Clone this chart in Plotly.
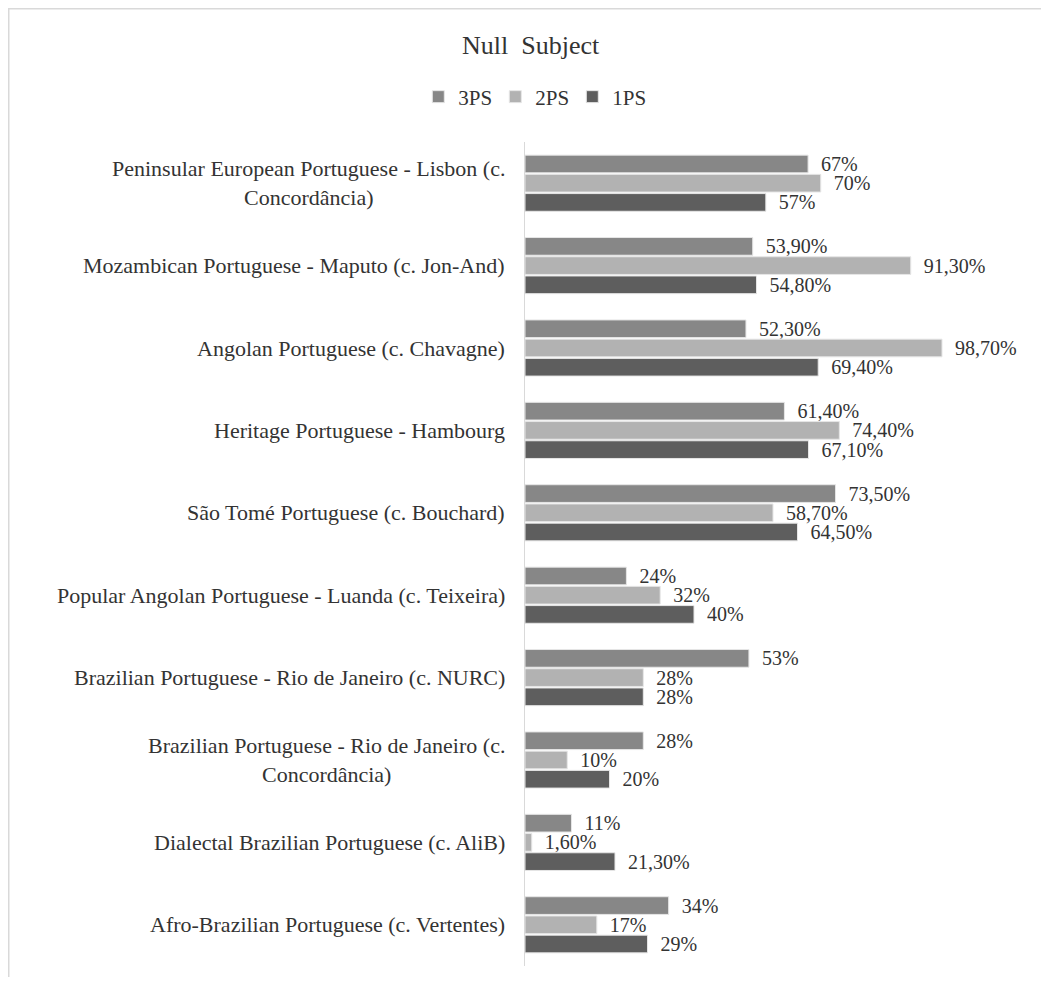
import plotly.graph_objects as go

categories = [
    "Peninsular European Portuguese - Lisbon (c.<br>Concordância)",
    "Mozambican Portuguese - Maputo (c. Jon-And)",
    "Angolan Portuguese (c. Chavagne)",
    "Heritage Portuguese - Hambourg",
    "São Tomé Portuguese (c. Bouchard)",
    "Popular Angolan Portuguese - Luanda (c. Teixeira)",
    "Brazilian Portuguese - Rio de Janeiro (c. NURC)",
    "Brazilian Portuguese - Rio de Janeiro (c.<br>Concordância)",
    "Dialectal Brazilian Portuguese (c. AliB)",
    "Afro-Brazilian Portuguese (c. Vertentes)",
]
ps3 = [67, 53.9, 52.3, 61.4, 73.5, 24, 53, 28, 11, 34]
ps2 = [70, 91.3, 98.7, 74.4, 58.7, 32, 28, 10, 1.6, 17]
ps1 = [57, 54.8, 69.4, 67.1, 64.5, 40, 28, 20, 21.3, 29]
series_names = ["3PS", "2PS", "1PS"]
series_colors = ["#878787", "#b2b2b2", "#5e5e5e"]

FONT = "Liberation Serif, Times New Roman, serif"
TXT = "#333333"

W, H = 1033, 969
ML, MR, MT, MB = 517, 9, 134, 11
PW, PH = W - ML - MR, H - MT - MB


def fmt(v):
    if float(v).is_integer():
        return "\u00a0\u00a0%d%%" % int(v)
    return "\u00a0\u00a0" + ("%.2f" % v).replace(".", ",") + "%"


fig = go.Figure()
for name, vals, col in zip(series_names, [ps3, ps2, ps1], series_colors):
    fig.add_trace(go.Bar(
        name=name, y=categories, x=vals, orientation="h",
        marker=dict(color=col, line=dict(color="#e6e6e6", width=1)),
        text=[fmt(v) for v in vals], textposition="outside",
        textfont=dict(family=FONT, size=20, color=TXT),
        constraintext="none", cliponaxis=False,
    ))

annotations = []
for c in categories:
    annotations.append(dict(
        x=0, xref="paper", y=c, yref="y", text=c, showarrow=False,
        xanchor="right", align="center", xshift=-18,
        font=dict(family=FONT, size=22, color=TXT),
    ))

fig.update_layout(
    width=W, height=H,
    paper_bgcolor="white", plot_bgcolor="white",
    margin=dict(l=ML, r=MR, t=MT, b=MB),
    barmode="group", bargap=0.3, bargroupgap=0.08,
    title=dict(text="Null  Subject", x=0.506, xanchor="center",
               y=1 - 37 / H, yanchor="middle",
               font=dict(family=FONT, size=26, color=TXT)),
    legend=dict(orientation="h", x=0.509, xanchor="center", xref="container",
                y=1 - 89 / H, yanchor="middle", yref="container",
                font=dict(family=FONT, size=21, color=TXT),
                itemwidth=30, entrywidth=32, traceorder="normal"),
    xaxis=dict(range=[0, 120], visible=False, showgrid=False, zeroline=False),
    yaxis=dict(autorange="reversed", showticklabels=False, ticks="",
               showline=True, linecolor="#d9d9d9", linewidth=1,
               showgrid=False, zeroline=False),
    annotations=annotations,
    shapes=[dict(type="rect", xref="paper", yref="paper",
                 x0=(0.5 - ML) / PW, x1=(W + 50 - ML) / PW,
                 y0=-(50 + MB) / PH, y1=(H - 0.5 - MB) / PH,
                 line=dict(color="#d9d9d9", width=2), fillcolor="rgba(0,0,0,0)",
                 layer="below")],
    showlegend=True,
)

fig.write_html("out.html")
